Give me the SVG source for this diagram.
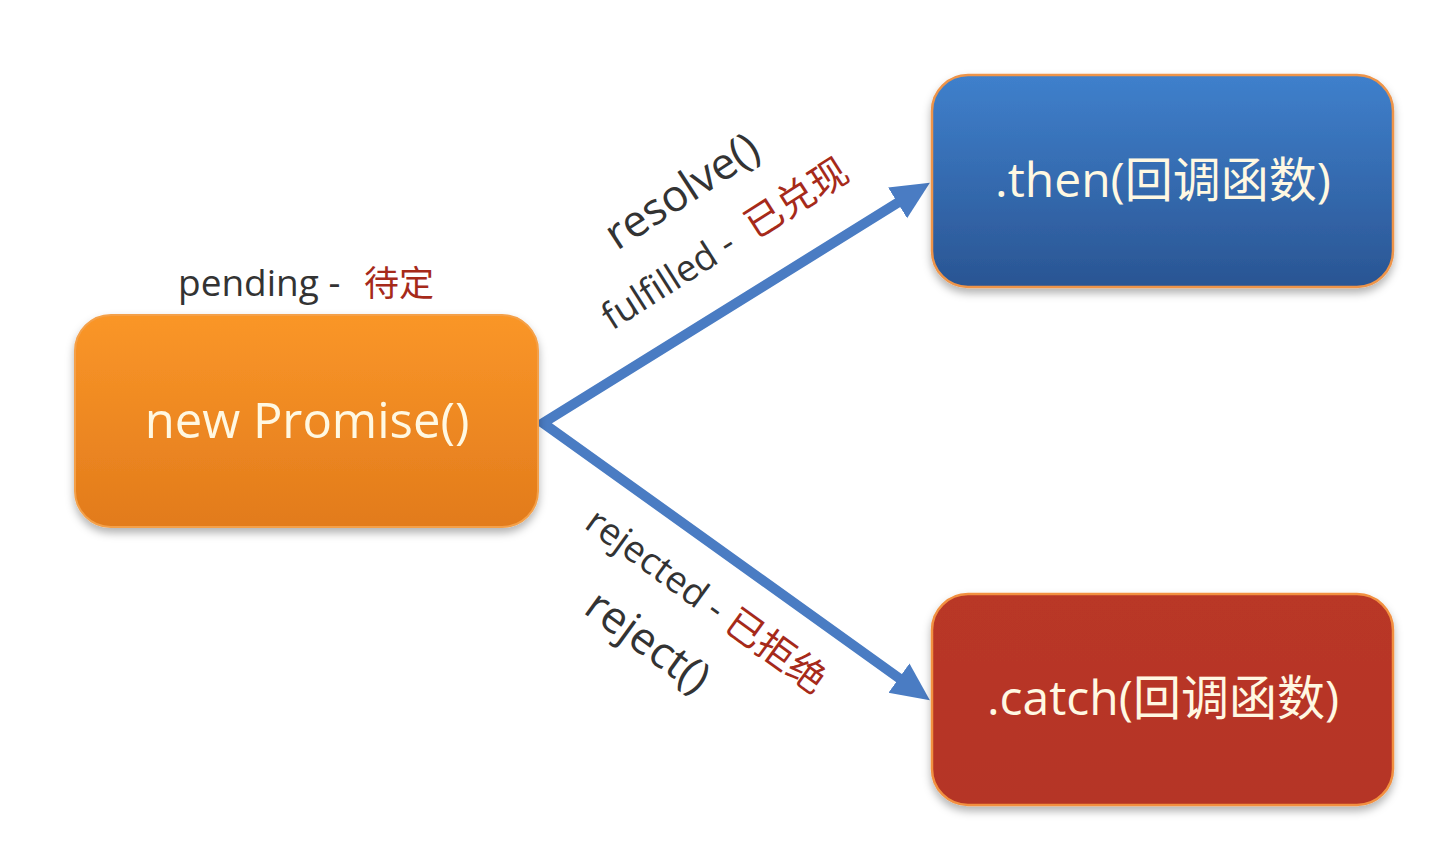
<svg xmlns="http://www.w3.org/2000/svg" width="1453" height="841" viewBox="0 0 1453 841">
<style>
.lbl{font-family:"Open Sans","Noto Sans","Noto Sans CJK SC",sans-serif;font-size:37px;fill:#333333}
.big{font-size:44px}
.cn{font-family:"Noto Sans CJK SC",sans-serif;fill:#A62A1A;font-size:38px}
.nt{font-family:"Open Sans","Noto Sans","Noto Sans CJK SC",sans-serif;font-size:48px;fill:#FFF8E2;text-anchor:middle}
.edge{fill:none;stroke:#4A7CC3;stroke-width:10;stroke-linejoin:miter}
</style>
<defs>
<linearGradient id="gO" x1="0" y1="0" x2="0" y2="1"><stop offset="0" stop-color="#FA9628"/><stop offset="1" stop-color="#E27B1C"/></linearGradient>
<linearGradient id="gB" x1="0" y1="0" x2="0" y2="1"><stop offset="0" stop-color="#3F80CC"/><stop offset="1" stop-color="#2A5593"/></linearGradient>
<linearGradient id="gR" x1="0" y1="0" x2="0" y2="1"><stop offset="0" stop-color="#B93727"/><stop offset="1" stop-color="#B53425"/></linearGradient>
<filter id="sh" x="-10%" y="-10%" width="120%" height="130%"><feDropShadow dx="0" dy="5" stdDeviation="4" flood-color="#000" flood-opacity="0.3"/></filter>
<marker id="ah" markerUnits="userSpaceOnUse" markerWidth="40" markerHeight="38" refX="2" refY="18" orient="auto-start-reverse"><path d="M0,0 L38,18 L0,36 z" fill="#4A7CC3"/></marker>
</defs>
<rect width="1453" height="841" fill="#FFFFFF"/>
<g id="connectors">
<path class="edge" d="M899.3,201.8 L543,423 L900.6,679.2" marker-start="url(#ah)" marker-end="url(#ah)"/>
</g>
<g id="node-promise">
<rect x="75" y="315" width="463" height="212" rx="36" fill="url(#gO)" stroke="#F4A048" stroke-width="2" filter="url(#sh)"/>
<text class="nt" x="307" y="438" style="font-size:49px">new Promise()</text>
</g>
<g id="node-then">
<rect x="932" y="75" width="461" height="212" rx="36" fill="url(#gB)" stroke="#EE9448" stroke-width="2.5" filter="url(#sh)"/>
<text class="nt" x="1163" y="197">.then(回调函数)</text>
</g>
<g id="node-catch">
<rect x="932" y="594" width="461" height="211" rx="36" fill="url(#gR)" stroke="#F29040" stroke-width="2.5" filter="url(#sh)"/>
<text class="nt" x="1163" y="715">.catch(回调函数)</text>
</g>
<g id="labels">
<text class="lbl" x="178" y="296">pending -<tspan class="cn" x="364" style="font-size:35px">待定</tspan></text>
<text class="lbl big" transform="translate(617,251) rotate(-33)">resolve()</text>
<text class="lbl" transform="translate(612,331) rotate(-32.5)">fulfilled -<tspan class="cn" dx="20">已兑现</tspan></text>
<text class="lbl" transform="translate(583,527) rotate(36)">rejected -<tspan class="cn" dx="10">已拒绝</tspan></text>
<text class="lbl big" transform="translate(582,612) rotate(36)">reject()</text>
</g>
</svg>
